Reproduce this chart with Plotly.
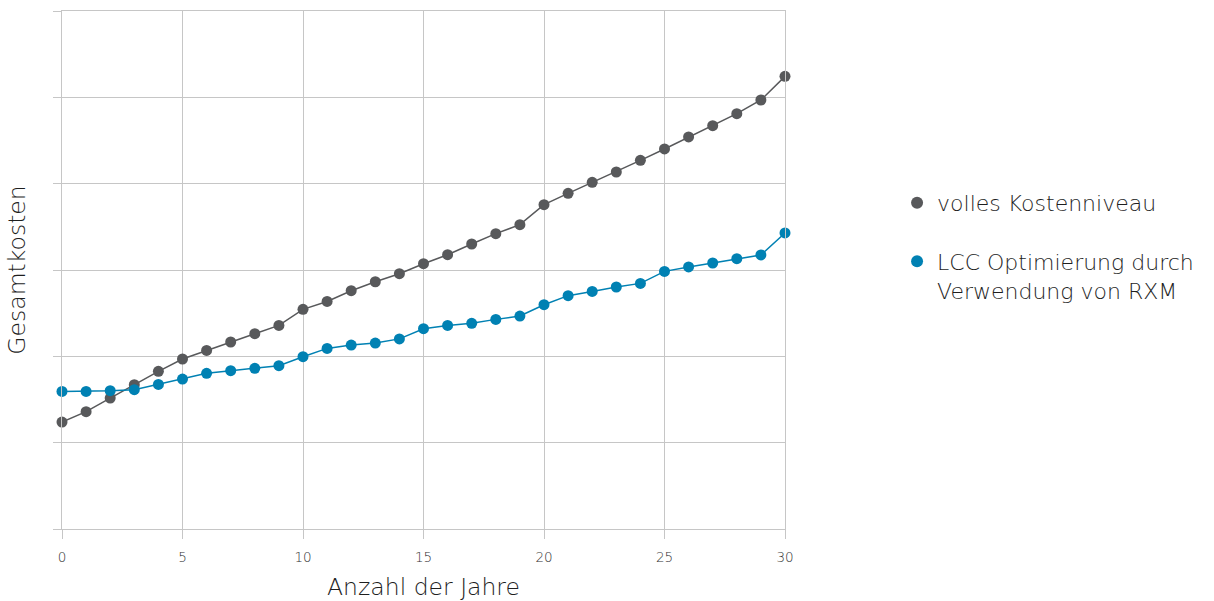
import plotly.graph_objects as go

years = list(range(0, 31))
voll = [1.239, 1.359, 1.517, 1.671, 1.826, 1.969, 2.069, 2.166, 2.262, 2.358,
        2.544, 2.636, 2.760, 2.864, 2.957, 3.073, 3.177, 3.301, 3.421, 3.525,
        3.757, 3.888, 4.015, 4.135, 4.270, 4.402, 4.541, 4.672, 4.811, 4.969, 5.243]
lcc = [1.594, 1.594, 1.602, 1.614, 1.675, 1.737, 1.803, 1.834, 1.861, 1.892,
       1.996, 2.092, 2.131, 2.154, 2.202, 2.320, 2.358, 2.382, 2.428, 2.467,
       2.598, 2.703, 2.752, 2.803, 2.845, 2.984, 3.035, 3.081, 3.131, 3.174, 3.429]
names = ["volles Kostenniveau", "LCC Optimierung durch<br>Verwendung von RXM"]
x_ticks = [0, 5, 10, 15, 20, 25, 30]
y_ticks = [0, 1, 2, 3, 4, 5, 6]

GRAY = "#58595b"
BLUE = "#0081b3"
GRID = "#c6c6c6"
FONT = "DejaVu Sans"
TXT = "#1e1e1e"

fig = go.Figure()
for yv, col, nm, grp in [(voll, GRAY, names[0], "a"), (lcc, BLUE, names[1], "b")]:
    fig.add_trace(go.Scatter(x=years, y=yv, name=nm, mode="lines+markers",
                             line=dict(color=col, width=1.5),
                             marker=dict(color=col, size=11),
                             cliponaxis=False, showlegend=False, legendgroup=grp))
    fig.add_trace(go.Scatter(x=[None], y=[None], name=nm, mode="markers",
                             marker=dict(color=col, size=12),
                             showlegend=True, legendgroup=grp))

fig.update_layout(
    width=1214, height=601,
    margin=dict(l=62, r=429, t=11, b=72),
    plot_bgcolor="white", paper_bgcolor="white",
    font=dict(family=FONT, color=TXT, weight=200),
    legend=dict(x=1.155, xanchor="left", y=0.67, yanchor="top",
                font=dict(size=22, color=TXT, weight=200),
                traceorder="grouped", tracegroupgap=27, valign="top",
                itemsizing="constant"),
    xaxis=dict(range=[0, 30], tickvals=x_ticks, showgrid=True, gridcolor=GRID,
               gridwidth=1, zeroline=False, showline=True, linecolor=GRID,
               linewidth=1, mirror=True, automargin=False,
               ticks="outside", ticklen=9, tickcolor=GRID, ticklabelstandoff=7,
               tickfont=dict(size=13.5, color="#333333", weight=200),
               title=dict(text="Anzahl der Jahre", font=dict(size=23.5, color=TXT, weight=200),
                          standoff=18)),
    yaxis=dict(range=[0, 6], tickvals=y_ticks, showticklabels=False,
               showgrid=True, gridcolor=GRID, gridwidth=1, zeroline=False,
               showline=True, linecolor=GRID, linewidth=1, mirror=True, automargin=False,
               ticks="outside", ticklen=8, tickcolor=GRID,
               title=dict(text="Gesamtkosten", font=dict(size=23.5, color=TXT, weight=200),
                          standoff=20)),
)

fig.write_html("out.html")
